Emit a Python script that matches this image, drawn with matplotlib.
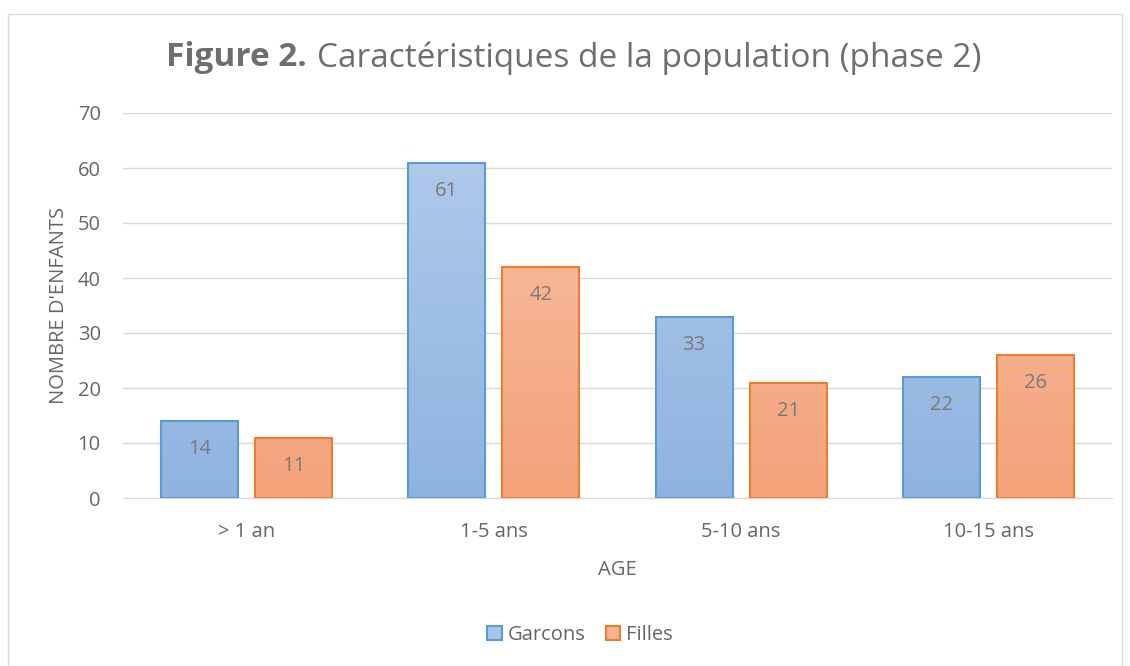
import numpy as np
import matplotlib
matplotlib.use("Agg")
import matplotlib.pyplot as plt
from matplotlib.patches import Rectangle, Patch
from matplotlib.colors import LinearSegmentedColormap

categories = ["> 1 an", "1-5 ans", "5-10 ans", "10-15 ans"]
garcons = [14, 61, 33, 22]
filles = [11, 42, 21, 26]
series_names = ["Garcons", "Filles"]
yticks = [0, 10, 20, 30, 40, 50, 60, 70]

plt.rcParams['font.family'] = ['Open Sans', 'DejaVu Sans']

TXT = '#666666'

fig = plt.figure(figsize=(11.3, 6.66), dpi=100)
ax = fig.add_axes([123/1130, 1-498/666, (1112-123)/1130, (498-113)/666])

# outer frame
fig.patches.append(Rectangle((8/1130, 0), 1114/1130, (666-14)/666, transform=fig.transFigure,
                             fill=False, edgecolor='#d9d9d9', lw=1.0))

x = np.arange(len(categories))
w = 0.311
off = 0.19

blue_cmap = LinearSegmentedColormap.from_list('b', ['#8fb3e0', '#b3cceb'])
orange_cmap = LinearSegmentedColormap.from_list('o', ['#f4a279', '#f8c4a8'])

ax.set_xlim(-0.5, 3.5)
ax.set_ylim(0, 70)

grad = np.linspace(0, 1, 256).reshape(-1, 1)
for vals, dx, cmap, edge in [(garcons, -off, blue_cmap, '#5b9bd5'), (filles, off, orange_cmap, '#ed7d31')]:
    bars = ax.bar(x + dx, vals, width=w, color='none', edgecolor=edge, linewidth=1.5, zorder=3)
    for b, v in zip(bars, vals):
        x0 = b.get_x()
        im = ax.imshow(grad, extent=[x0, x0 + b.get_width(), 0, 70], origin='lower',
                       aspect='auto', cmap=cmap, zorder=2)
        im.set_clip_path(b)
        ax.annotate(str(v), (b.get_x() + b.get_width()/2, v), xytext=(0, -20.5),
                    textcoords='offset points', ha='center', va='center',
                    fontsize=14.5, color='#7a7a7a', zorder=4)

ax.set_xlim(-0.5, 3.5)
ax.set_ylim(0, 70)
ax.set_yticks(yticks)
ax.set_xticks(x)
ax.set_xticklabels(categories)
ax.yaxis.grid(True, color='#d9d9d9', lw=1.0, zorder=0)
ax.set_axisbelow(True)
for s in ['top', 'right', 'left']:
    ax.spines[s].set_visible(False)
ax.spines['bottom'].set_color('#d9d9d9')
ax.tick_params(axis='both', length=0, labelsize=14.5, labelcolor=TXT)
ax.tick_params(axis='x', pad=17)
ax.tick_params(axis='y', pad=16)

ax.set_xlabel("AGE", fontsize=14.5, color=TXT, labelpad=13)
ax.set_ylabel("NOMBRE D'ENFANTS", fontsize=14.5, color=TXT, labelpad=6)

# title: bold part then regular part, placed via renderer measurement
ty = 1 - 58/666
t_bold = fig.text(166/1130, ty, "Figure 2.", fontsize=24, fontweight='bold', color='#6e6e6e',
                  ha='left', va='center')
fig.canvas.draw()
r = fig.canvas.get_renderer()
bb = t_bold.get_window_extent(renderer=r)
fig.text((bb.x1 + 10)/1130, ty, "Caractéristiques de la population (phase 2)", fontsize=24,
         color='#6e6e6e', ha='left', va='center')

handles = [Patch(facecolor='#a9c4e8', edgecolor='#5b9bd5', lw=1.5),
           Patch(facecolor='#f6b492', edgecolor='#ed7d31', lw=1.5)]
fig.legend(handles, series_names, loc='center', bbox_to_anchor=(580/1130, 1-635/666), ncol=2,
           frameon=False, fontsize=14.5, labelcolor=TXT, handlelength=0.7, handleheight=0.7,
           handletextpad=0.3, columnspacing=1.0)

fig.savefig("out.png", dpi=100)
